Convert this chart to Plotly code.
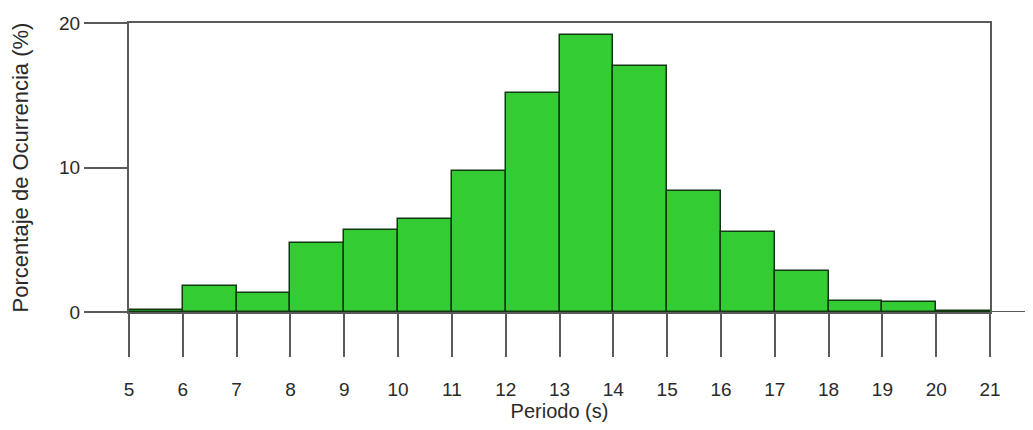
import plotly.graph_objects as go

# Histogram bins (s) and percentages
bin_edges = [5, 6, 7, 8, 9, 10, 11, 12, 13, 14, 15, 16, 17, 18, 19, 20, 21]
percent = [0.15, 1.8, 1.34, 4.75, 5.65, 6.42, 9.78, 15.18, 19.2, 17.0, 8.37, 5.52, 2.86, 0.76, 0.67, 0.05]
x_ticks = list(range(5, 22))
y_ticks = [0, 10, 20]

AXIS_COLOR = "#5a5a5a"
TEXT_COLOR = "#2a2a2a"
FONT = "Liberation Sans, Arial, sans-serif"

# page body has an 8px default margin, so the figure is sized/offset accordingly
fig = go.Figure()
fig.add_trace(go.Bar(
    x=bin_edges[:-1],
    y=percent,
    width=[bin_edges[i + 1] - bin_edges[i] for i in range(len(percent))],
    offset=0,
    marker=dict(color="#33cc33", line=dict(color="#123812", width=1.5)),
    showlegend=False,
))

fig.update_layout(
    width=1025, height=422,
    margin=dict(l=121, r=43, t=15, b=118, autoexpand=False),
    plot_bgcolor="white", paper_bgcolor="white",
    bargap=0,
    font=dict(family=FONT, color=TEXT_COLOR, size=19),
)

fig.update_xaxes(
    range=[bin_edges[0], bin_edges[-1]],
    tickmode="array", tickvals=x_ticks, ticktext=[str(v) for v in x_ticks],
    ticks="outside", ticklen=43, tickwidth=2, tickcolor=AXIS_COLOR,
    ticklabelstandoff=16,
    showline=True, linecolor=AXIS_COLOR, linewidth=2, mirror=True,
    showgrid=False, zeroline=False, automargin=False,
    tickfont=dict(size=19, family=FONT, color=TEXT_COLOR),
    title=dict(text="Periodo (s)", font=dict(size=20, family=FONT, color=TEXT_COLOR), standoff=2),
)
fig.update_yaxes(
    range=[y_ticks[0], y_ticks[-1]],
    tickmode="array", tickvals=y_ticks, ticktext=[str(v) for v in y_ticks],
    ticks="outside", ticklen=43, tickwidth=2, tickcolor=AXIS_COLOR,
    showline=True, linecolor=AXIS_COLOR, linewidth=2, mirror=True,
    showgrid=False, zeroline=False, automargin=False,
    tickfont=dict(size=19, family=FONT, color=TEXT_COLOR),
    title=dict(text="Porcentaje de Ocurrencia (%)", font=dict(size=22, family=FONT, color=TEXT_COLOR), standoff=28),
)

# x-axis baseline continues past the right frame edge
fig.add_shape(type="line", xref="paper", yref="y",
              x0=1, x1=1 + 43 / 861, y0=0, y1=0,
              line=dict(color=AXIS_COLOR, width=2), layer="above")

fig.write_html("out.html")
